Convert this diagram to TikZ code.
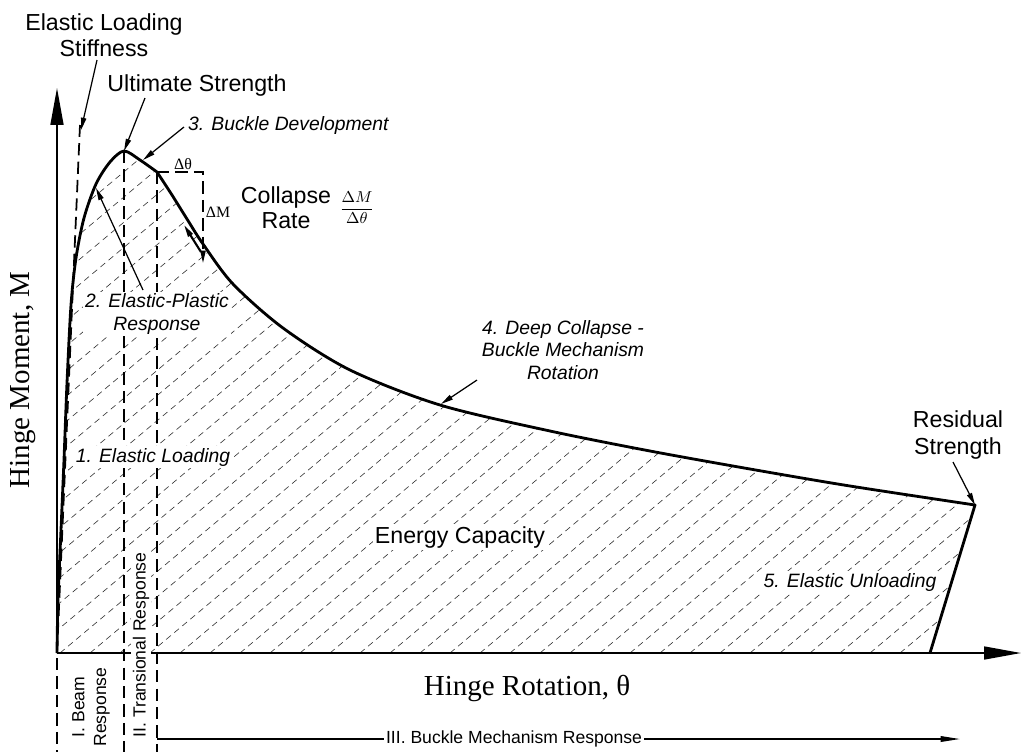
\documentclass[tikz,border=0pt]{standalone}
\usepackage{fontspec}
\setmainfont{Liberation Serif}
\setsansfont{Liberation Sans}
\usepackage{tikz}
\usetikzlibrary{arrows.meta}

\newcommand{\momcurve}{plot[smooth, tension=0.5] coordinates {(57,653) (58,600) (61,530) (64,460) (67,383) (71,305) (76,258) (84,218) (96,184) (110,162) (124,151) (140,160) (157,172)}
  -- plot[smooth, tension=0.5] coordinates {(157,172) (172,195) (187,219) (203,244) (233,284) (283,328) (350,370) (440,405) (550,431) (650,451) (750,469) (850,486) (975,505)}}

\begin{document}
\begin{tikzpicture}[
    x=0.02cm, y=-0.02cm,
    lab/.style={font=\sffamily\fontsize{13.2}{15}\selectfont, align=center, inner sep=1pt},
    itl/.style={font=\sffamily\itshape\fontsize{11}{12.6}\selectfont, align=center, fill=white, inner sep=1pt},
    reg/.style={font=\sffamily\fontsize{10}{12.4}\selectfont, align=center, fill=white, inner sep=1pt},
    axl/.style={font=\fontsize{16.5}{18}\selectfont, inner sep=1pt},
    sml/.style={font=\fontsize{9}{10}\selectfont, inner sep=1pt},
    axis/.style={line width=0.85pt, -{Triangle[length=21pt, width=7.4pt]}},
    ptr/.style={line width=0.7pt, -{Triangle[length=7pt, width=3pt]}},
    curve/.style={line width=1.6pt, line join=round},
    vdash/.style={line width=0.8pt, dash pattern=on 7pt off 3.5pt},
    hatch/.style={line width=0.35pt, black!80, dash pattern=on 3.5pt off 2.5pt},
  ]
    \useasboundingbox (0,0) rectangle (1025,752);

    \coordinate (O)    at (57,653);
    \coordinate (ytip) at (57,88);
    \coordinate (xtip) at (1021,653);
    \coordinate (peak) at (124,151);
    \coordinate (kink) at (157,172);
    \coordinate (res)  at (975,505);
    \coordinate (unl)  at (930,653);

    % shaded energy area
    \begin{scope}
      \clip \momcurve -- (unl) -- cycle;
      \foreach \i in {-570,-540,...,1000}
        \draw[hatch] (\i,653) -- ++(600,-503);
    \end{scope}

    % regime boundaries
    \draw[vdash] (57,658) -- (57,752);
    \draw[vdash] (peak) -- (124,752);
    \draw[vdash] (kink) -- (157,752);
    \draw[vdash, line width=1pt] (O) -- (80,125);

    \draw[axis] (O) -- (ytip);
    \draw[axis] (O) -- (xtip);

    % labels
    \node[lab] (stiff) at (104,35) {Elastic Loading\\Stiffness};
    \node[lab] (ult) at (197,85) {Ultimate Strength};
    \node[itl, anchor=west] (bdev) at (186,125) {3. Buckle Development};
    \node[lab, font=\sffamily\fontsize{13.2}{14.2}\selectfont] (rate) at (286,208) {Collapse\\Rate};
    \node[sml] (frac) at (357,208) {$\displaystyle\frac{\Delta M}{\Delta\theta}$};
    \node[sml] (dth) at (183,164) {Δθ};
    \node[sml] (dm) at (218,212) {ΔM};
    \node[itl] (ep) at (157,314) {2. Elastic-Plastic\\Response};
    \node[itl] (el) at (153,457) {1. Elastic Loading};
    \node[itl] (deep) at (563,350) {4. Deep Collapse -\\Buckle Mechanism\\Rotation};
    \node[lab, fill=white] (energy) at (460,537) {Energy Capacity};
    \node[lab] (resid) at (958,435) {Residual\\Strength};
    \node[itl] (unload) at (850,582) {5. Elastic Unloading};
    \node[axl, rotate=90] (ylab) at (23,380) {Hinge Moment, M};
    \node[axl] (xlab) at (527,688) {Hinge Rotation, θ};
    \node[reg, rotate=90] (beam) at (91,707) {I. Beam\\Response};
    \node[reg, rotate=90] (trans) at (141,645) {II. Transional Response};
    \node[reg, anchor=west] (mech) at (384,739) {III. Buckle Mechanism Response};

    % moment-rotation curve
    \draw[curve] \momcurve -- (unl);

    % pointers
    \coordinate (stT) at (97,60);   \coordinate (stH) at (81,130);
    \coordinate (ulT) at (145,98);
    \coordinate (bdT) at (184,127); \coordinate (bdH) at (143,160);
    \coordinate (epT) at (143,290); \coordinate (epH) at (96,188);
    \coordinate (dpT) at (477,380); \coordinate (dpH) at (441,404);
    \coordinate (rsT) at (953,462);
    \coordinate (brk) at (203,172); \coordinate (dmH) at (203,263);
    \coordinate (tgT) at (201,252); \coordinate (tgH) at (184,225);
    \coordinate (mcL) at (157,739); \coordinate (mcR) at (960,739);

    \draw[ptr] (stT) -- (stH);
    \draw[ptr] (ulT) -- (peak);
    \draw[ptr] (bdT) -- (bdH);
    \draw[ptr] (epT) -- (epH);
    \draw[ptr] (dpT) -- (dpH);
    \draw[ptr] (rsT) -- (res);
    \draw[vdash, -{Triangle[length=7pt, width=3pt]}] (kink) -- (brk) -- (dmH);
    \draw[ptr, line width=1.2pt] (tgT) -- (tgH);
    \draw[line width=0.8pt] (mcL) -- (mech.west);
    \draw[line width=0.8pt, -{Triangle[length=11pt, width=3.2pt]}] (mech.east) -- (mcR);
  \end{tikzpicture}
\end{document}
